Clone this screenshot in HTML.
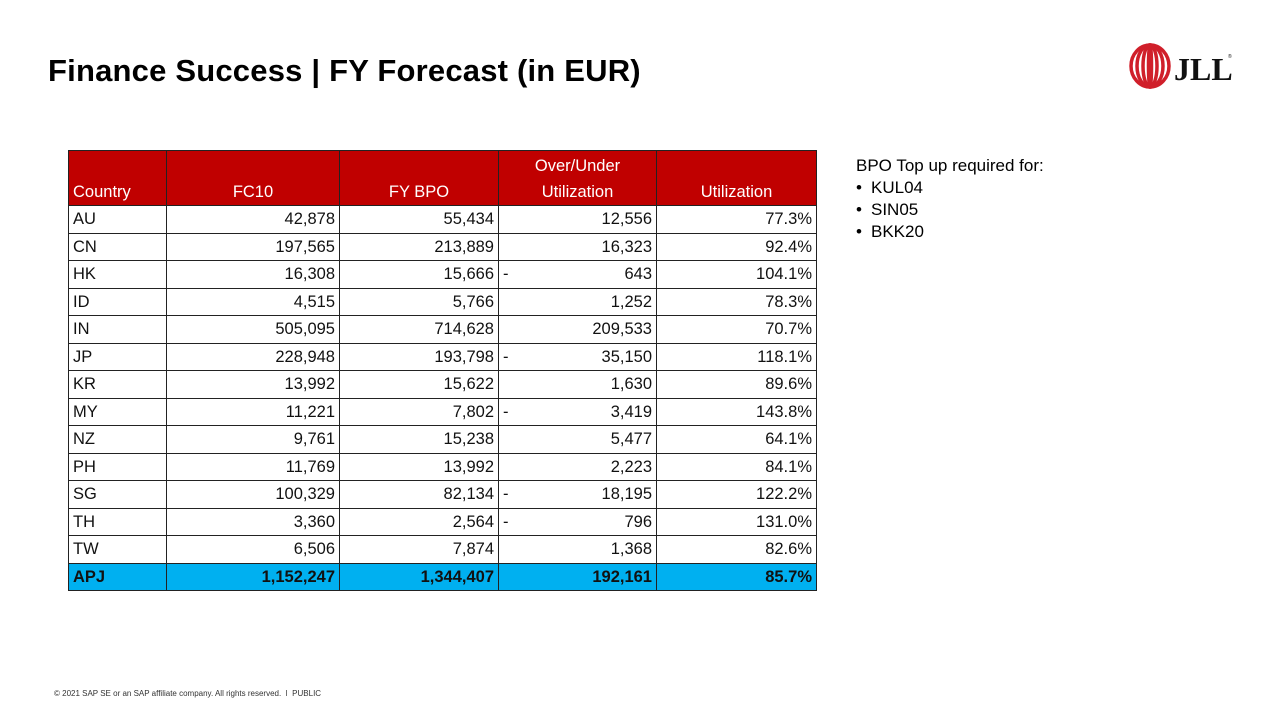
<!DOCTYPE html>
<html><head><meta charset="utf-8"><style>
body{margin:0;width:1280px;height:720px;background:#fff;position:relative;overflow:hidden;font-family:"Liberation Sans",sans-serif}
h1{position:absolute;left:48px;top:53px;margin:0;font-size:31px;font-weight:bold;color:#000;letter-spacing:0.2px}
table{position:absolute;left:68px;top:150px;border-collapse:collapse;font-family:"Liberation Sans",sans-serif;font-size:16.5px;color:#111}
td{border:1px solid #222;height:26.5px;padding:0 4px;text-align:right;white-space:nowrap;line-height:26px}
td:first-child{text-align:left}
tr.h td{background:#c00000;color:#fff;height:54px;vertical-align:bottom;text-align:center;line-height:26px;border-color:#222}
tr.h td:first-child{text-align:left}
tr.t td{background:#00b0f0;font-weight:bold}
.m{float:left}
.note{position:absolute;left:856px;top:155px;font-size:17px;line-height:22px;color:#000}
.note span{display:inline-block;width:15px}
.foot{position:absolute;left:54px;top:689px;font-size:8px;color:#333}
</style></head><body>
<h1>Finance Success | FY Forecast (in EUR)</h1>
<svg style="position:absolute;left:1128px;top:42px" width="108" height="48" viewBox="0 0 108 48">
<g fill="none" stroke="#d01f2a" stroke-width="3.5">
<ellipse cx="22" cy="24" rx="19" ry="21"/><ellipse cx="22" cy="24" rx="13" ry="21"/><ellipse cx="22" cy="24" rx="7" ry="21"/><ellipse cx="22" cy="24" rx="1.5" ry="21"/></g>
<text x="46" y="38" font-family="Liberation Serif,serif" font-weight="bold" font-size="32" fill="#111">JLL</text>
<text x="100" y="16" font-size="5" fill="#111">®</text>
</svg>
<table>
<colgroup><col style="width:98px"><col style="width:173px"><col style="width:159px"><col style="width:158px"><col style="width:160px"></colgroup>
<tr class="h"><td>Country</td><td>FC10</td><td>FY BPO</td><td>Over/Under<br>Utilization</td><td>Utilization</td></tr>
<tr><td>AU</td><td>42,878</td><td>55,434</td><td>12,556</td><td>77.3%</td></tr>
<tr><td>CN</td><td>197,565</td><td>213,889</td><td>16,323</td><td>92.4%</td></tr>
<tr><td>HK</td><td>16,308</td><td>15,666</td><td><span class="m">-</span>643</td><td>104.1%</td></tr>
<tr><td>ID</td><td>4,515</td><td>5,766</td><td>1,252</td><td>78.3%</td></tr>
<tr><td>IN</td><td>505,095</td><td>714,628</td><td>209,533</td><td>70.7%</td></tr>
<tr><td>JP</td><td>228,948</td><td>193,798</td><td><span class="m">-</span>35,150</td><td>118.1%</td></tr>
<tr><td>KR</td><td>13,992</td><td>15,622</td><td>1,630</td><td>89.6%</td></tr>
<tr><td>MY</td><td>11,221</td><td>7,802</td><td><span class="m">-</span>3,419</td><td>143.8%</td></tr>
<tr><td>NZ</td><td>9,761</td><td>15,238</td><td>5,477</td><td>64.1%</td></tr>
<tr><td>PH</td><td>11,769</td><td>13,992</td><td>2,223</td><td>84.1%</td></tr>
<tr><td>SG</td><td>100,329</td><td>82,134</td><td><span class="m">-</span>18,195</td><td>122.2%</td></tr>
<tr><td>TH</td><td>3,360</td><td>2,564</td><td><span class="m">-</span>796</td><td>131.0%</td></tr>
<tr><td>TW</td><td>6,506</td><td>7,874</td><td>1,368</td><td>82.6%</td></tr>
<tr class="t"><td>APJ</td><td>1,152,247</td><td>1,344,407</td><td>192,161</td><td>85.7%</td></tr>
</table>
<div class="note">BPO Top up required for:<br><span>•</span>KUL04<br><span>•</span>SIN05<br><span>•</span>BKK20</div>
<div class="foot">© 2021 SAP SE or an SAP affiliate company. All rights reserved.&nbsp;&nbsp;ǀ&nbsp;&nbsp;PUBLIC</div>
</body></html>
